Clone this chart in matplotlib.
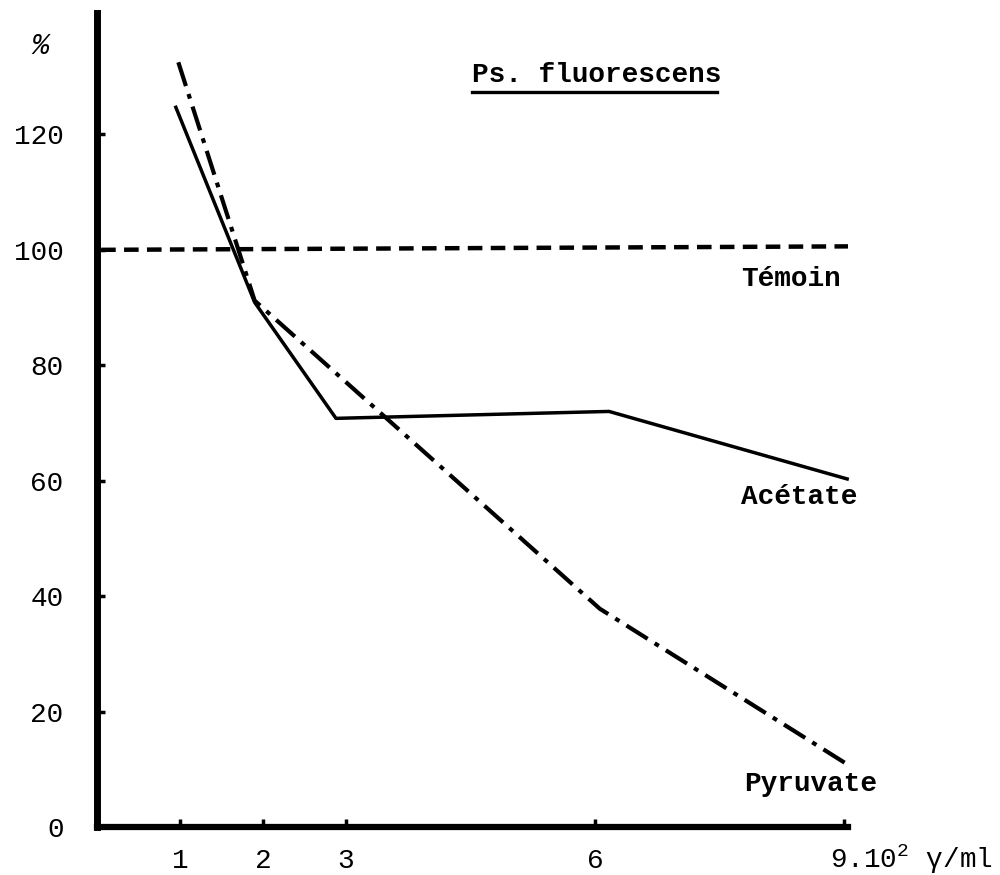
import matplotlib
matplotlib.use("Agg")
import matplotlib.pyplot as plt

plt.rcParams['font.family'] = ['Liberation Mono', 'DejaVu Sans Mono']
plt.rcParams['mathtext.fontset'] = 'custom'
plt.rcParams['mathtext.rm'] = 'Liberation Mono'
plt.rcParams['lines.scale_dashes'] = False

# values (x in 10^2 gamma/ml, y in %)
temoin_x = [0.05, 9.05]
temoin_y = [100, 100.6]
acetate_x = [0.95, 1.90, 2.88, 6.17, 9.04]
acetate_y = [124.7, 90.9, 70.8, 72.0, 60.3]
pyruvate_x = [0.98, 1.90, 6.06, 9.08]
pyruvate_y = [132.5, 91.2, 37.8, 10.5]

xticks = [1, 2, 3, 6, 9]
xticklabels = ['1', '2', '3', '6', '']
yticks = [0, 20, 40, 60, 80, 100, 120]

fig = plt.figure(figsize=(10, 8.75), dpi=100)
ax = fig.add_axes([0.097, 0.0549, 0.751, 0.930])

ax.plot(temoin_x, temoin_y, color='black', lw=3.2, linestyle=(0, (10.5, 6)), clip_on=False)
ax.plot(acetate_x, acetate_y, color='black', lw=2.5, clip_on=False)
ax.plot(pyruvate_x, pyruvate_y, color='black', lw=3,
        linestyle=(0, (18, 6, 3.5, 6)), clip_on=False)

ax.set_xlim(0, 9.05)
ax.set_ylim(0, 141)

for s in ['top', 'right']:
    ax.spines[s].set_visible(False)
ax.spines['left'].set_linewidth(5)
ax.spines['bottom'].set_linewidth(4.5)

ax.set_xticks(xticks)
ax.set_xticklabels(xticklabels)
ax.set_yticks(yticks)
ax.tick_params(axis='both', direction='in', length=6, width=2.5, labelsize=20)
ax.tick_params(axis='y', pad=24, left=True)
ax.tick_params(axis='x', pad=15)
ax.yaxis.get_major_ticks()[0].tick1line.set_visible(False)

ax.text(8.83, -0.04, r'$\mathregular{9.10^2}$ γ/ml', fontsize=20,
        ha='left', va='center', transform=ax.get_xaxis_transform(), clip_on=False)

# curve labels
ax.text(7.76, 93.8, 'Témoin', fontsize=20, fontweight='bold', va='baseline')
ax.text(7.76, 56.0, 'Acétate', fontsize=20, fontweight='bold', va='baseline', clip_on=False)
ax.text(7.80, 6.2, 'Pyruvate', fontsize=20, fontweight='bold', va='baseline', clip_on=False)

# title + underline
ax.text(4.52, 129.0, 'Ps. fluorescens', fontsize=20, fontweight='bold', va='baseline')
ax.plot([4.52, 7.47], [127.3, 127.3], color='black', lw=2.4)

fig.text(0.040, 0.948, '%', fontsize=21, ha='center', va='center', style='italic')

fig.savefig('out.png', dpi=100)
